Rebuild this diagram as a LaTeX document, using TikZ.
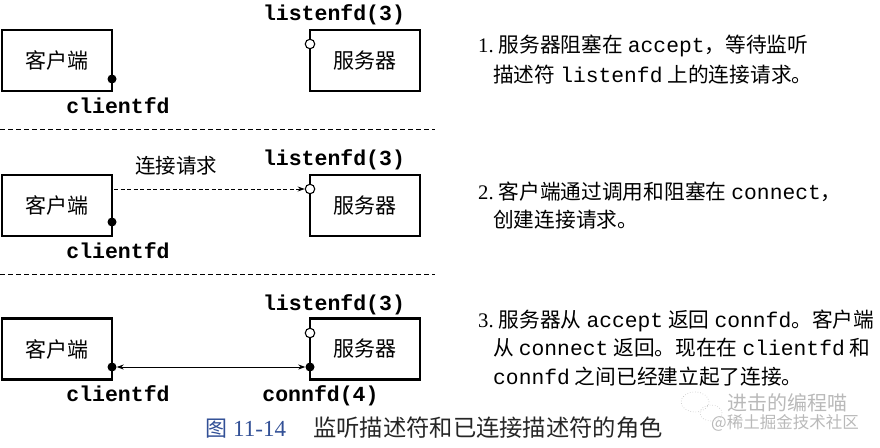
\documentclass[tikz,border=0pt]{standalone}
\usepackage{fontspec}
\setmainfont{Noto Sans CJK SC}
\newfontfamily\cjk{Noto Sans CJK SC}
\newfontfamily\mono{Liberation Mono}
\newfontfamily\serifl{Liberation Serif}
\usetikzlibrary{arrows.meta}
\definecolor{capblue}{RGB}{50,80,150}
\newcommand{\dm}[1]{{\mono\fontsize{21.3}{22}\selectfont #1}}
\newcommand{\gp}{\hspace{5pt}}
\begin{document}
\begin{tikzpicture}[x=1pt,y=-1pt,
  box/.style={draw,line width=2.4pt,minimum width=110pt,minimum height=61pt,inner sep=0pt,
    font=\cjk\fontsize{21}{21}\selectfont},
  fdlbl/.style={anchor=base,inner sep=0pt,font=\mono\bfseries\fontsize{21.5}{22}\selectfont},
  desc/.style={anchor=base west,inner sep=0pt,font=\cjk\fontsize{20.7}{21}\selectfont},
  fdot/.style={circle,fill=black,minimum size=9pt,inner sep=0pt},
  odot/.style={circle,draw,fill=white,line width=1.1pt,minimum size=9.5pt,inner sep=0pt},
  sep/.style={line width=0.8pt,dash pattern=on 5pt off 3pt},
  arr/.style={line width=0.9pt,-{Stealth[length=7pt,width=5pt]}},
  darr/.style={line width=0.9pt,{Stealth[length=7pt,width=5pt]}-{Stealth[length=7pt,width=5pt]}},
  wm/.style={inner sep=0pt,text=gray!55}
]
\useasboundingbox (0,0) rectangle (880,447);

% ---------- panel 1 ----------
\node[box] (c1) at (57,60.5) {客户端};
\node[box] (s1) at (365,60.5) {服务器};
\node[fdot] (cd1) at (112,79) {};
\node[odot] (lo1) at (310,44) {};
\node[fdlbl] (l1) at (334,20) {listenfd(3)};
\node[fdlbl] (k1) at (118,113) {clientfd};
\node[desc] (t11) at (478,52.5) {{\serifl 1.}\gp 服务器阻塞在\gp\dm{accept}，等待监听};
\node[desc] (t12) at (493,82.5) {描述符\gp\dm{listenfd}\gp 上的连接请求。};
\coordinate (sa) at (0,129);
\coordinate (sb) at (435,129);
\draw[sep] (sa) -- (sb);

% ---------- panel 2 ----------
\node[box] (c2) at (57,205.5) {客户端};
\node[box] (s2) at (365,205.5) {服务器};
\node[fdot] (cd2) at (112,222) {};
\node[odot] (lo2) at (310,189) {};
\node[fdlbl] (l2) at (334,165) {listenfd(3)};
\node[fdlbl] (k2) at (118,258) {clientfd};
\node[anchor=base,inner sep=0pt,font=\cjk\fontsize{20.5}{21}\selectfont] (req) at (176,173.5) {连接请求};
\coordinate (a2) at (114,189);
\draw[arr,dashed,dash pattern=on 4pt off 2.5pt] (a2) -- (lo2.west);
\node[desc] (t21) at (478,199.5) {{\serifl 2.}\gp 客户端通过调用和阻塞在\gp\dm{connect}，};
\node[desc] (t22) at (493,227.5) {创建连接请求。};
\coordinate (sc) at (0,274);
\coordinate (sd) at (435,274);
\draw[sep] (sc) -- (sd);

% ---------- panel 3 ----------
\node[box] (c3) at (57,349) {客户端};
\node[box] (s3) at (365,349) {服务器};
\node[odot] (lo3) at (310,333) {};
\node[fdot] (cd3) at (112,367) {};
\node[fdot] (sd3) at (310,367) {};
\draw[darr] (cd3) -- (sd3);
\node[fdlbl] (l3) at (334,310) {listenfd(3)};
\node[fdlbl] (k3) at (118,401) {clientfd};
\node[fdlbl] (n3) at (320.5,401) {connfd(4)};
\node[desc] (t31) at (478,327.5) {{\serifl 3.}\gp 服务器从\gp\dm{accept}\gp 返回\gp\dm{connfd}。客户端};
\node[desc] (t32) at (493,355.5) {从\gp\dm{connect}\gp 返回。现在在\gp\dm{clientfd}\gp 和};
\node[desc] (t33) at (493,384.5) {\dm{connfd}\gp 之间已经建立起了连接。};

% ---------- caption ----------
\node[anchor=base west,inner sep=0pt,text=capblue] (cap1) at (205,436)
  {{\cjk\fontsize{22}{23}\selectfont 图}\hspace{6pt}{\serifl\fontsize{23}{24}\selectfont 11-14}};
\node[anchor=base west,inner sep=0pt,font=\cjk\fontsize{23.3}{24}\selectfont,text=black!85] (cap2) at (313,436)
  {监听描述符和已连接描述符的角色};

% ---------- watermark ----------
\draw[gray!50,line width=0.6pt,dotted] (695,402) ellipse (14pt and 10pt);
\draw[gray!50,line width=0.6pt,dotted] (711,413) ellipse (11pt and 8pt);
\node[wm,font=\cjk\fontsize{20}{21}\selectfont] (wm1) at (787,403) {进击的编程喵};
\node[wm,font=\cjk\fontsize{16.5}{17}\selectfont] (wm2) at (785,423) {@稀土掘金技术社区};
\end{tikzpicture}
\end{document}
